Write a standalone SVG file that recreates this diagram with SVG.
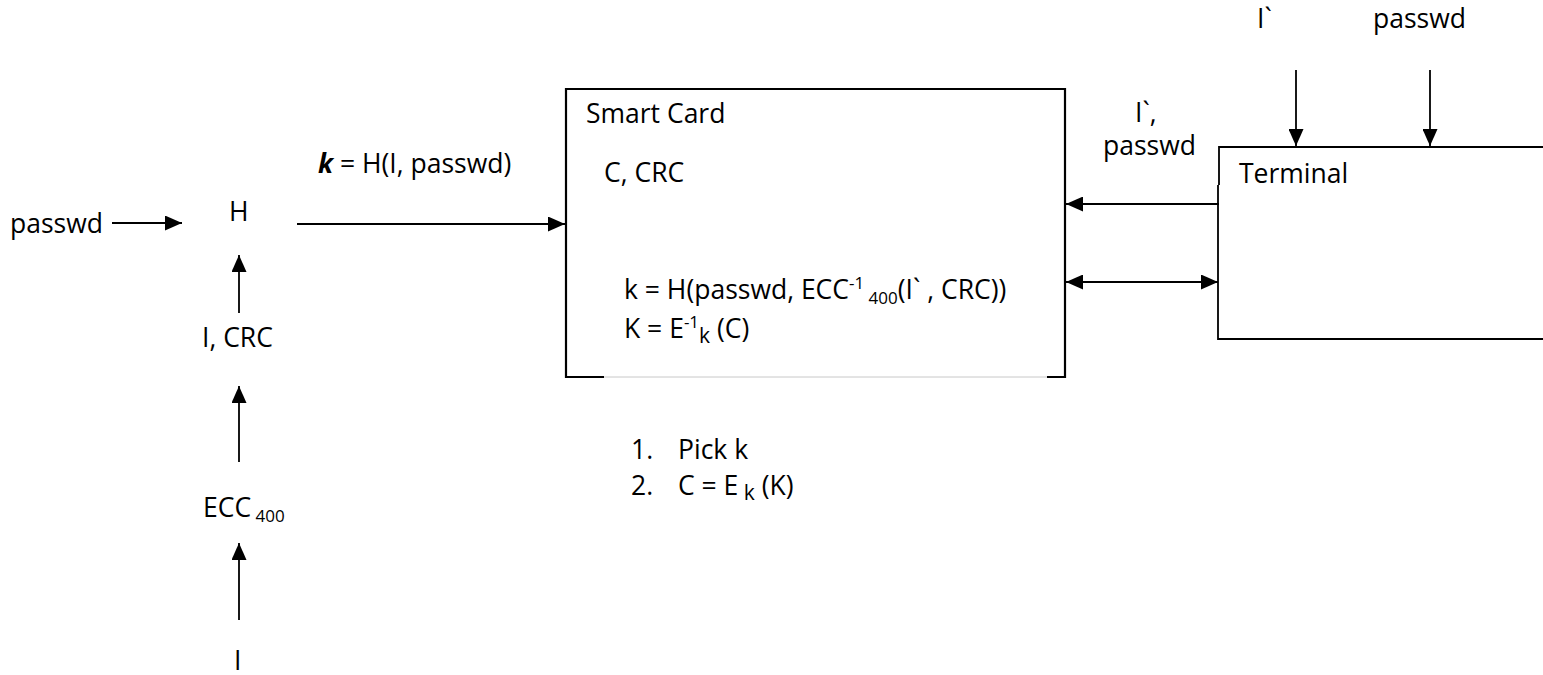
<svg xmlns="http://www.w3.org/2000/svg" width="1543" height="675" viewBox="0 0 1543 675">
<style>
text{font-family:"Open Sans","Liberation Sans",Arial,sans-serif;font-size:26.5px;fill:#000}
.sm{font-size:17px}
.ln{stroke:#000;stroke-width:1.8;fill:none}
.box{stroke:#000;stroke-width:2.2;fill:none}
</style>
<defs>
<marker id="ah" viewBox="0 0 17 15" refX="17" refY="7.5" markerWidth="17" markerHeight="15" markerUnits="userSpaceOnUse" orient="auto-start-reverse">
<path d="M0,0 L17,7.5 L0,15 z" fill="#000"/>
</marker>
</defs>
<rect width="1543" height="675" fill="#fff"/>

<g id="smartcard">
<path class="box" d="M604,377 H566 V89 H1065 V377 H1047"/>
<line x1="604" y1="377" x2="1047" y2="377" stroke="#c8c8c8" stroke-width="1"/>
<text x="586" y="123">Smart Card</text>
<text x="604" y="182">C, CRC</text>
<text x="624" y="299">k = H(passwd, ECC<tspan class="sm" dy="-10">-1</tspan><tspan class="sm" dy="15"> 400</tspan><tspan dy="-5">(I` , CRC))</tspan></text>
<text x="624" y="338">K = E<tspan class="sm" dy="-10">-1</tspan><tspan font-size="21" dy="15">k</tspan><tspan dy="-5"> (C)</tspan></text>
</g>

<g id="terminal">
<path class="ln" d="M1543,147 H1219 V185 M1218,185 V339 H1543"/>
<text x="1239" y="183">Terminal</text>
</g>

<g id="labels">
<text id="n-passwd" x="10" y="233">passwd</text>
<text id="n-H" x="229" y="221">H</text>
<text id="n-ICRC" x="202" y="347">I, CRC</text>
<text id="n-ECC" x="203" y="517">ECC<tspan class="sm" dy="5"> 400</tspan></text>
<text id="n-I" x="234" y="670">I</text>
<text id="k-label" x="318" y="173"><tspan font-weight="bold" font-style="italic">k</tspan> = H(I, passwd)</text>
<text id="top-I" x="1257" y="28">I`</text>
<text id="top-passwd" x="1373" y="28">passwd</text>
<text id="mid-I" x="1135" y="122">I`,</text>
<text id="mid-passwd" x="1103" y="155">passwd</text>
<g id="steps">
<text x="631" y="459">1.</text><text x="678" y="459">Pick k</text>
<text x="631" y="495">2.</text><text x="678" y="495">C = E<tspan font-size="21" dy="5"> k</tspan><tspan dy="-5"> (K)</tspan></text>
</g>
</g>

<g id="connectors">
<line class="ln" x1="112" y1="223" x2="182" y2="223" marker-end="url(#ah)"/>
<line class="ln" x1="297" y1="224" x2="565" y2="224" marker-end="url(#ah)"/>
<line class="ln" x1="239" y1="313" x2="239" y2="255" marker-end="url(#ah)"/>
<line class="ln" x1="239" y1="462" x2="239" y2="386" marker-end="url(#ah)"/>
<line class="ln" x1="239" y1="620" x2="239" y2="543" marker-end="url(#ah)"/>
<line class="ln" x1="1296" y1="70" x2="1296" y2="146" marker-end="url(#ah)"/>
<line class="ln" x1="1430" y1="70" x2="1430" y2="146" marker-end="url(#ah)"/>
<line class="ln" x1="1219" y1="204" x2="1066" y2="204" marker-end="url(#ah)"/>
<line class="ln" x1="1066" y1="282" x2="1218" y2="282" marker-start="url(#ah)" marker-end="url(#ah)"/>
</g>
</svg>
